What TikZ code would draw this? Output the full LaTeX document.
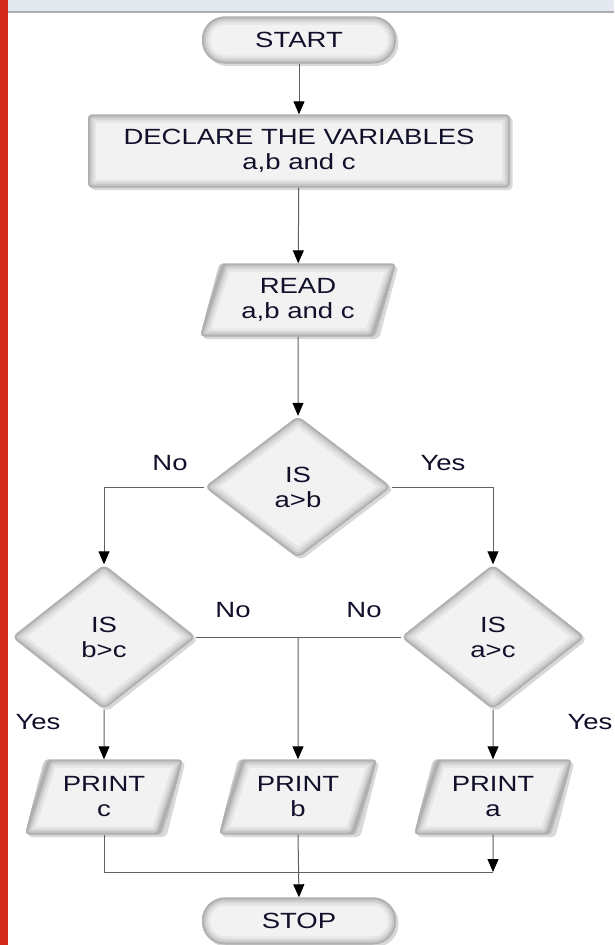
\documentclass[tikz,border=0pt]{standalone}
\usepackage{fontspec}
\setmainfont[FakeStretch=1.25]{Liberation Sans}
\usetikzlibrary{shapes.geometric,arrows.meta,shadows,calc}
\definecolor{txt}{HTML}{10102A}
\definecolor{strip}{HTML}{E4E9EF}
\definecolor{redbar}{HTML}{D42A1C}
\begin{document}
\begin{tikzpicture}[x=1pt,y=-1pt,
 base/.style={fill=gray!10, draw=none,
   drop shadow={shadow xshift=2.5pt,shadow yshift=-2.5pt,opacity=0.3},
   font=\fontsize{22}{25}\selectfont, text=txt, align=center, inner sep=0pt},
 glowrect/.style={path picture={\foreach \w/\c in {16/20,11/32,7/45,3.5/62}{\draw[gray!\c,line width=\w pt,rounded corners=#1] (path picture bounding box.south west) rectangle (path picture bounding box.north east);}}},
 glowdia/.style={path picture={\foreach \w/\c in {18/20,12/32,7/45,3.5/62}{\draw[gray!\c,line width=\w pt,rounded corners=6pt] (path picture bounding box.north) -- (path picture bounding box.east) -- (path picture bounding box.south) -- (path picture bounding box.west) -- cycle;}}},
 glowtrap/.style={path picture={\foreach \w/\c in {16/20,11/32,7/45,3.5/62}{\draw[gray!\c,line width=\w pt,rounded corners=4pt] (path picture bounding box.south west) -- ($(path picture bounding box.south east)+(-#1,0)$) -- (path picture bounding box.north east) -- ($(path picture bounding box.north west)+(#1,0)$) -- cycle;}}},
 term/.style={base, rectangle, rounded corners=23pt, minimum width=194pt, minimum height=47pt, glowrect=23pt},
 proc/.style={base, rectangle, rounded corners=4pt, minimum width=422pt, minimum height=73pt, glowrect=4pt},
 io/.style={base, trapezium, trapezium left angle=72, trapezium right angle=108,
   trapezium stretches=true, minimum width=196pt, minimum height=73pt, rounded corners=4pt, glowtrap=23.7},
 pio/.style={base, trapezium, trapezium left angle=72, trapezium right angle=108,
   trapezium stretches=true, minimum width=158pt, minimum height=75pt, rounded corners=4pt, glowtrap=24.4},
 dec/.style={base, diamond, rounded corners=6pt, minimum width=187pt, minimum height=142pt, glowdia},
 sdec/.style={dec, minimum width=184pt, minimum height=145pt},
 conn/.style={draw=gray!75!black, line width=1pt},
 arr/.style={conn, -{Triangle[width=11pt,length=13pt,color=black]}},
 lbl/.style={font=\fontsize{22}{25}\selectfont, text=txt, inner sep=0pt}
]
\useasboundingbox (0,0) rectangle (614,945);
\fill[white] (0,0) rectangle (614,945);
\fill[strip] (0,0) rectangle (614,11);
\draw[gray!65, line width=2pt] (0,12) -- (614,12);
\fill[redbar] (0,0) rectangle (8,945);

\node[term] (start) at (299,40) {START};
\node[proc] (decl) at (299,151) {DECLARE THE VARIABLES\\a,b and c};
\node[io] (read) at (298,300) {READ\\a,b and c};
\node[dec] (d1) at (298,487) {IS\\a>b};
\node[sdec] (d2) at (104,637) {IS\\b>c};
\node[sdec] (d3) at (493,637) {IS\\a>c};
\node[pio] (pc) at (104,797) {PRINT\\c};
\node[pio] (pb) at (298,797) {PRINT\\b};
\node[pio] (pa) at (493,797) {PRINT\\a};
\node[term] (stop) at (299,921) {STOP};

\node[lbl] (l1) at (170,463) {No};
\node[lbl] (l2) at (443,463) {Yes};
\node[lbl] (l3) at (233,610) {No};
\node[lbl] (l4) at (364,610) {No};
\node[lbl] (l5) at (38,722) {Yes};
\node[lbl] (l6) at (590,722) {Yes};

\coordinate (j) at (298,637);
\coordinate (m) at (493,872);

\draw[arr] (start) -- (decl);
\draw[arr] (decl) -- (read);
\draw[arr] (read) -- (d1);
\draw[arr] (d1.west) -| (d2.north);
\draw[arr] (d1.east) -| (d3.north);
\draw[conn] (d2.east) -- (d3.west);
\draw[arr] (j) -- (pb.north);
\draw[arr] (d2.south) -- (pc.north);
\draw[arr] (d3.south) -- (pa.north);
\draw[conn] (pc.south) |- (m);
\draw[arr] (pa.south) -- (m);
\draw[arr] (pb.south) -- (stop.north);
\end{tikzpicture}
\end{document}
